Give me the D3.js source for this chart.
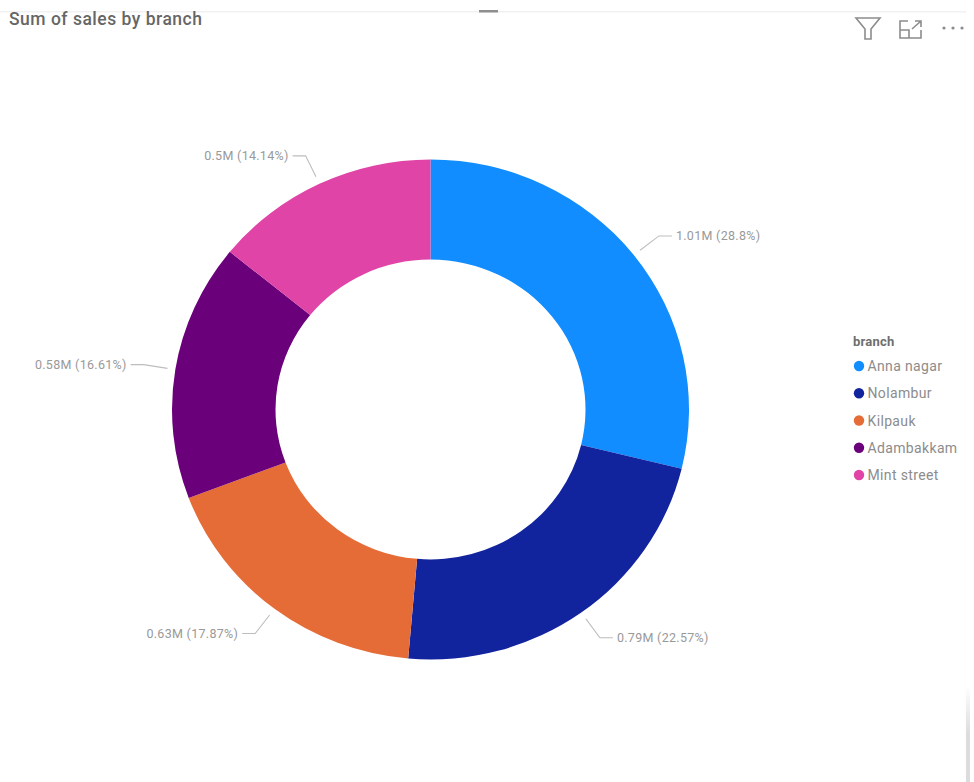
<!DOCTYPE html>
<html>
<head>
<meta charset="utf-8">
<script src="https://cdn.jsdelivr.net/npm/d3@7/dist/d3.min.js"></script>
<style>
  html, body { margin: 0; padding: 0; background: #fff; }
  svg { display: block; }
  text { font-family: Roboto, "Open Sans", sans-serif; }
</style>
</head>
<body>
<svg id="chart" width="974" height="782"></svg>
<script>
// Sales per branch
const branches = ["Anna nagar", "Nolambur", "Kilpauk", "Adambakkam", "Mint street"];
const salesMillions = [1.01, 0.79, 0.63, 0.58, 0.5];
const sharePercent = [28.8, 22.57, 17.87, 16.61, 14.14];
const branchColors = ["#118DFF", "#12239E", "#E66C37", "#6B007B", "#E044A7"];

const svg = d3.select("#chart");
const rows = branches.map((name, i) => ({
  name, sales: salesMillions[i], share: sharePercent[i], color: branchColors[i]
}));

// Visual frame: hairline under the top edge, drag handle, faint right-side edge
const edge = svg.append("defs").append("linearGradient")
  .attr("id", "edgeFade").attr("x1", 0).attr("x2", 0).attr("y1", 0).attr("y2", 1);
edge.append("stop").attr("offset", 0).attr("stop-color", "#dcdcdc").attr("stop-opacity", 0);
edge.append("stop").attr("offset", 0.5).attr("stop-color", "#dcdcdc").attr("stop-opacity", 1);
svg.append("rect").attr("x", 0).attr("y", 11).attr("width", 966).attr("height", 1.5).attr("fill", "#f1f1f1");
svg.append("rect").attr("x", 479).attr("y", 10).attr("width", 19).attr("height", 2.5).attr("fill", "#8f8f8f");
svg.append("rect").attr("x", 966).attr("y", 685).attr("width", 4).attr("height", 97).attr("fill", "url(#edgeFade)");

svg.append("text")
  .attr("x", 9).attr("y", 25)
  .attr("font-size", 17.5).attr("font-weight", 500).attr("letter-spacing", 0.5).attr("fill", "#666")
  .text("Sum of sales by branch");

// Header icons: filter, focus mode, more options
const icons = svg.append("g").attr("fill", "none").attr("stroke", "#8c8c8c").attr("stroke-width", 1.6);
icons.append("path").attr("d", "M856 18H880L871 29V39H865V29Z");
icons.append("path").attr("d", "M908 21H900V38H921V30M900 30H909V38M912 29L921 21M915 21H921V27");
svg.append("g").attr("fill", "#8c8c8c").selectAll("circle").data([944, 953, 962]).join("circle")
  .attr("cx", d => d).attr("cy", 28).attr("r", 1.6);

// Donut, slightly wider than tall
const cx = 430.5, cy = 409.5;
const outerR = 258.5, innerR = 155, squash = 250 / 258.5;
const pie = d3.pie().sort(null).value(d => d.share);
const arc = d3.arc().innerRadius(innerR).outerRadius(outerR);
const arcs = pie(rows);

svg.append("g")
  .attr("transform", `translate(${cx},${cy}) scale(1,${squash})`)
  .selectAll("path").data(arcs).join("path")
  .attr("d", arc)
  .attr("fill", d => d.data.color);

// Leader lines and data labels
const polar = (angle, r) => [cx + Math.sin(angle) * r, cy - Math.cos(angle) * r * squash];
const leader = d3.line();
const labelLayer = svg.append("g");
arcs.forEach(d => {
  const mid = (d.startAngle + d.endAngle) / 2;
  const side = Math.sin(mid) >= 0 ? 1 : -1;
  const a = polar(mid, outerR + 8);
  const b = polar(mid, outerR + 32);
  const c = [b[0] + side * 13, b[1]];
  labelLayer.append("path")
    .attr("d", leader([a, b, c]))
    .attr("fill", "none").attr("stroke", "#bdbdbd").attr("stroke-width", 1.1);
  labelLayer.append("text")
    .attr("x", c[0] + side * 4).attr("y", c[1] + 4.5)
    .attr("text-anchor", side > 0 ? "start" : "end")
    .attr("font-size", 12.5).attr("letter-spacing", 0.3).attr("fill", "#999")
    .text(`${d.data.sales}M (${d.data.share}%)`);
});

// Legend
const legendY = d3.scalePoint().domain(branches).range([366, 475]);
svg.append("text").attr("x", 853).attr("y", 346)
  .attr("font-size", 13).attr("font-weight", 700).attr("letter-spacing", 0.2).attr("fill", "#6e6e6e").text("branch");
const legend = svg.append("g").selectAll("g").data(rows).join("g")
  .attr("transform", d => `translate(0,${legendY(d.name)})`);
legend.append("circle").attr("cx", 859).attr("r", 5.2).attr("fill", d => d.color);
legend.append("text").attr("x", 867.5).attr("y", 5)
  .attr("font-size", 14).attr("letter-spacing", 0.35).attr("fill", "#8c8c8c").text(d => d.name);
</script>
</body>
</html>
